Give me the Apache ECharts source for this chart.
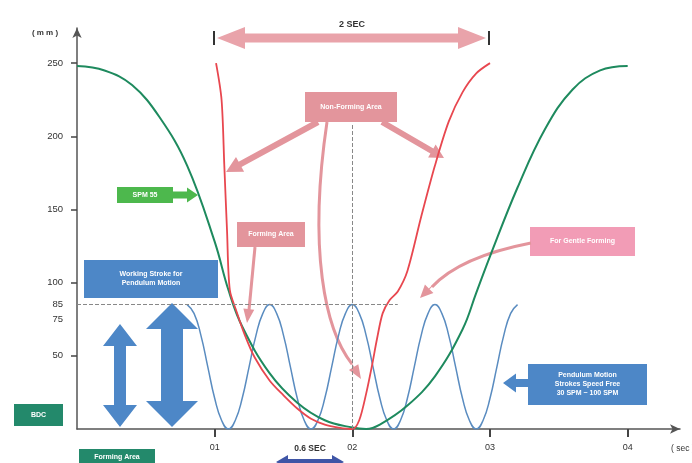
<!DOCTYPE html>
<html><head><meta charset="utf-8">
<script src="https://cdn.jsdelivr.net/npm/echarts@6/dist/echarts.min.js"></script>
<style>html,body{margin:0;padding:0;background:#fff}#c{width:692px;height:463px}</style>
</head><body><div id="c"></div>
<script>
// ---- data ----
const greenT = [0,0.2,0.4,0.6,0.8,1.0,1.1,1.2,1.4,1.6,1.8,2.0,2.1,2.2,2.4,2.6,2.8,2.9,3.0,3.2,3.4,3.6,3.8,4.0];
const greenV = [248,245,235,213,180,128,95,70,38,18,6,1,0,3,16,36,68,93,118,165,205,232,245,248];

const redT = [1.01,1.05,1.07,1.09,1.11,1.16,1.22,1.29,1.4,1.5,1.6,1.7,1.8,1.9,2.0,2.05,2.1,2.14,2.18,2.22,2.27,2.33,2.4,2.5,2.6,2.7,2.8,2.9,3.0];
const redV = [250,225,180,135,95,80,64,49,33,23,14,7,3,1,0,6,24,42,62,79,88,94,108,145,180,210,230,243,250];

const blueT = [0.8,0.85,0.9,0.95,1.0,1.05,1.1,1.15,1.2,1.25,1.3,1.35,1.4,1.45,1.5,1.55,1.6,1.65,1.7,1.75,1.8,1.85,1.9,1.95,2.0,2.05,2.1,2.15,2.2,2.25,2.3,2.35,2.4,2.45,2.5,2.55,2.6,2.65,2.7,2.75,2.8,2.85,2.9,2.95,3.0,3.05,3.1,3.15,3.2];
const blueV = [85,79,64,42.5,21,6,0,6,21,42.5,64,79,
               85,79,64,42.5,21,6,0,6,21,42.5,64,79,
               85,79,64,42.5,21,6,0,6,21,42.5,64,79,
               85,79,64,42.5,21,6,0,6,21,42.5,64,79,85];

const yLabelValues = [250,200,150,100,85,75,50];
const yTickValues = [250,200,150,100,50];
const xTickValues = [1,2,3,4];
const xTickLabels = ['01','02','03','04'];
const strokeLevel = 85;      // working stroke level (dashed line)
const centerTime = 2;        // dashed vertical guide

// ---- helpers ----
const pairs = (t, v) => t.map((x, i) => [x, v[i]]);
function arrow(x1,y1,x2,y2,sw,hw,hl,dbl){
  const dx=x2-x1, dy=y2-y1, L=Math.hypot(dx,dy), ux=dx/L, uy=dy/L, nx=-uy, ny=ux;
  const p=(d,n)=>[x1+ux*d+nx*n, y1+uy*d+ny*n];
  const pts=[];
  if(dbl){ pts.push(p(0,0), p(hl,hw/2), p(hl,sw/2)); } else { pts.push(p(0,sw/2)); }
  pts.push(p(L-hl,sw/2), p(L-hl,hw/2), p(L,0), p(L-hl,-hw/2), p(L-hl,-sw/2));
  if(dbl){ pts.push(p(hl,-sw/2), p(hl,-hw/2)); } else { pts.push(p(0,-sw/2)); }
  return pts;
}
function poly(points, fill){ return {type:'polygon', shape:{points}, style:{fill}}; }
function box(x,y,w,h,fill,text,fs){
  return [
    {type:'rect', shape:{x,y,width:w,height:h}, style:{fill}},
    {type:'text', x:x+w/2, y:y+h/2, style:{text, fill:'#fff', font:'bold '+(fs||7)+'px "Liberation Sans", Arial', align:'center', verticalAlign:'middle', lineHeight:(fs||7)+2}}
  ];
}
const PINK = '#e3959c', PINK2 = '#f29cb6', BLUE = '#4d87c7', GREEN = '#4db84d', TEAL = '#23896b';

const chart = echarts.init(document.getElementById('c'), null, {renderer:'canvas'});
const graphics = [].concat(
  // 2 SEC arrow
  [poly(arrow(217,38,486,38,9,22,28,true), '#e9a3aa'),
   {type:'line', shape:{x1:214,y1:31,x2:214,y2:45}, style:{stroke:'#333', lineWidth:2}},
   {type:'line', shape:{x1:489,y1:31,x2:489,y2:45}, style:{stroke:'#333', lineWidth:2}},
   {type:'text', x:352, y:25, style:{text:'2 SEC', fill:'#333', font:'bold 9px "Liberation Sans", Arial', align:'center', verticalAlign:'middle'}}],
  // Non-forming area
  box(305,92,92,30,PINK,'Non-Forming Area'),
  [poly(arrow(318,122,226,172,6,17,16,false), PINK),
   poly(arrow(382,122,444,158,6,15,14,false), PINK),
   {type:'bezierCurve', shape:{x1:327,y1:122,cpx1:308,cpy1:250,cpx2:325,cpy2:330,x2:352,y2:364}, style:{stroke:PINK, lineWidth:3, fill:null}},
   poly(arrow(348,358,361,379,1,11,14,false), PINK)],
  // Forming area
  box(237,222,68,25,PINK,'Forming Area'),
  [{type:'line', shape:{x1:255,y1:247,x2:249,y2:310}, style:{stroke:PINK, lineWidth:3}},
   poly(arrow(250,300,247,323,1,11,14,false), PINK)],
  // For gentle forming
  box(530,227,105,29,PINK2,'For Gentle Forming'),
  [{type:'bezierCurve', shape:{x1:531,y1:243,cpx1:495,cpy1:250,cpx2:455,cpy2:262,x2:432,y2:287}, style:{stroke:PINK, lineWidth:3, fill:null}},
   poly(arrow(436,282,420,298,1,12,13,false), PINK)],
  // SPM
  box(117,187,56,16,GREEN,'SPM 55'),
  [poly(arrow(172,195,198,195,7,15,11,false), GREEN)],
  // Working stroke
  box(84,260,134,38,BLUE,'Working Stroke for\nPendulum Motion'),
  [poly(arrow(120,324,120,427,12,34,22,true), BLUE),
   poly(arrow(172,303,172,427,22,52,26,true), BLUE)],
  // Pendulum motion
  box(528,364,119,41,BLUE,'Pendulum Motion\nStrokes Speed Free\n30 SPM ~ 100 SPM'),
  [poly(arrow(529,383,503,383,8,19,13,false), BLUE)],
  // BDC & forming area (bottom)
  box(14,404,49,22,TEAL,'BDC'),
  box(79,449,76,16,TEAL,'Forming Area'),
  // 0.6 sec
  [{type:'text', x:310, y:449, style:{text:'0.6 SEC', fill:'#333', font:'bold 8.5px "Liberation Sans", Arial', align:'center', verticalAlign:'middle'}},
   poly(arrow(276,462,344,462,6,14,12,true), '#3f55a6')],
  // axis names
  [{type:'text', x:45, y:33, style:{text:'( m m )', fill:'#333', font:'bold 8px "Liberation Sans", Arial', align:'center', verticalAlign:'middle'}},
   {type:'text', x:671, y:449, style:{text:'( sec )', fill:'#333', font:'8.5px "Liberation Sans", Arial', align:'left', verticalAlign:'middle'}}]
);

chart.setOption({
  animation:false,
  grid:{left:77, right:12, top:28, bottom:34, containLabel:false, outerBoundsMode:'none'},
  xAxis:{type:'value', min:0, max:4.38,
    axisLine:{show:true, onZero:false, lineStyle:{color:'#555', width:1.5}, symbol:['none','arrow'], symbolSize:[7,10]},
    axisTick:{show:true, length:8, lineStyle:{color:'#444', width:2}, customValues:xTickValues},
    axisLabel:{show:true, margin:14, color:'#333', fontSize:9, fontFamily:'Liberation Sans', customValues:xTickValues,
      formatter:v => xTickLabels[xTickValues.indexOf(Math.round(v))] || ''},
    splitLine:{show:false}},
  yAxis:{type:'value', min:0, max:274,
    axisLine:{show:true, onZero:false, lineStyle:{color:'#555', width:1.5}, symbol:['none','arrow'], symbolSize:[7,10]},
    axisTick:{show:true, length:6, lineStyle:{color:'#444', width:1.5}, customValues:yTickValues},
    axisLabel:{show:true, margin:14, color:'#333', fontSize:9.5, fontFamily:'Liberation Sans', customValues:yLabelValues},
    splitLine:{show:false}},
  series:[
    {type:'line', data:pairs(greenT, greenV), smooth:0.4, showSymbol:false, lineStyle:{color:'#1e8a5e', width:2}, z:3},
    {type:'line', data:pairs(redT, redV), smooth:0.3, showSymbol:false, lineStyle:{color:'#e8474f', width:1.8}, z:4,
      markLine:{silent:true, symbol:'none', label:{show:false}, lineStyle:{color:'#888', type:'dashed', width:1},
        data:[[{coord:[0,strokeLevel]},{coord:[2.33,strokeLevel]}],
              [{coord:[centerTime,0]},{coord:[centerTime,209]}]]}},
    {type:'line', data:pairs(blueT, blueV), smooth:0.5, showSymbol:false, lineStyle:{color:'#5a8cc0', width:1.5}, z:2}
  ],
  graphic:graphics
});
</script></body></html>
